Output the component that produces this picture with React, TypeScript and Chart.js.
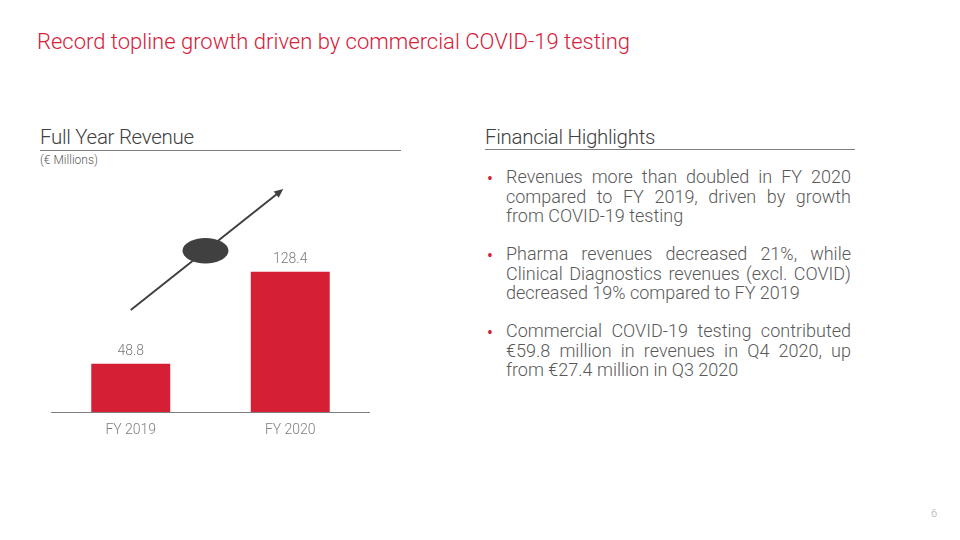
import React, { useEffect, useRef } from "react";
import { Chart, registerables } from "chart.js";

Chart.register(...registerables);

const categories = ["FY 2019", "FY 2020"];
const revenues = [48.8, 128.4];
const valueLabels = ["48.8", "128.4"];

const RED = "#D51F34";
const GRAY_TEXT = "#595959";
const FONT = "Roboto, 'Liberation Sans', sans-serif";

const decorPlugin = {
  id: "decor",
  afterDatasetsDraw(chart: any) {
    const ctx = chart.ctx;
    const meta = chart.getDatasetMeta(0);
    ctx.save();
    // value labels
    ctx.font = `300 14px ${FONT}`;
    ctx.fillStyle = "#7a7a7a";
    ctx.textAlign = "center";
    ctx.textBaseline = "bottom";
    meta.data.forEach((bar: any, i: number) => {
      ctx.fillText(valueLabels[i], bar.x, bar.y - 5);
    });
    // growth arrow (decoration)
    const x0 = meta.data[0].x;
    const x1 = meta.data[1].x;
    const area = chart.chartArea;
    const sx = x0;
    const sy = area.bottom - 102;
    const ex = x1 - 7;
    const ey = area.bottom - 223;
    ctx.strokeStyle = "#404040";
    ctx.fillStyle = "#404040";
    ctx.lineWidth = 2;
    const ang = Math.atan2(ey - sy, ex - sx);
    ctx.beginPath();
    ctx.moveTo(sx, sy);
    ctx.lineTo(ex - 6 * Math.cos(ang), ey - 6 * Math.sin(ang));
    ctx.stroke();
    ctx.beginPath();
    ctx.moveTo(ex, ey);
    ctx.lineTo(ex - 9 * Math.cos(ang) + 4 * Math.sin(ang), ey - 9 * Math.sin(ang) - 4 * Math.cos(ang));
    ctx.lineTo(ex - 9 * Math.cos(ang) - 4 * Math.sin(ang), ey - 9 * Math.sin(ang) + 4 * Math.cos(ang));
    ctx.closePath();
    ctx.fill();
    // ellipse
    const cx = sx + (ex - sx) * 0.49;
    const cy = sy + (ey - sy) * 0.49;
    ctx.beginPath();
    ctx.ellipse(cx, cy, 23, 12.7, 0, 0, Math.PI * 2);
    ctx.fill();
    ctx.restore();
  },
};

function RevenueChart() {
  const ref = useRef<HTMLCanvasElement>(null);
  useEffect(() => {
    if (!ref.current) return;
    const chart = new Chart(ref.current, {
      type: "bar",
      data: {
        labels: categories,
        datasets: [
          {
            data: revenues,
            backgroundColor: RED,
            borderWidth: 0,
            categoryPercentage: 1,
            barPercentage: 0.495,
          },
        ],
      },
      options: {
        animation: false,
        responsive: false,
        maintainAspectRatio: false,
        layout: { padding: 0 },
        plugins: { legend: { display: false }, tooltip: { enabled: false } },
        scales: {
          x: {
            grid: { display: false, drawTicks: false },
            border: { display: true, color: "#7f7f7f", width: 1 },
            ticks: {
              padding: 10,
              color: "#7f7f7f",
              font: { family: FONT, size: 14, weight: "300" as any },
            },
            afterFit: (scale: any) => {
              scale.height = 33;
            },
          },
          y: {
            display: false,
            min: 7,
            max: 216.3,
          },
        },
      },
      plugins: [decorPlugin],
    });
    return () => chart.destroy();
  }, []);
  return (
    <canvas
      ref={ref}
      width={319}
      height={275}
      style={{ position: "absolute", left: 51, top: 170, width: 319, height: 275 }}
    />
  );
}

const bullets = [
  "Revenues more than doubled in FY 2020 compared to FY 2019, driven by growth from COVID-19 testing",
  "Pharma revenues decreased 21%, while Clinical Diagnostics revenues (excl. COVID) decreased 19% compared to FY 2019",
  "Commercial COVID-19 testing contributed €59.8 million in revenues in Q4 2020, up from €27.4 million in Q3 2020",
];

export default function App() {
  return (
    <div
      style={{
        position: "absolute",
        left: 0,
        top: 0,
        width: 960,
        height: 540,
        background: "#ffffff",
        fontFamily: FONT,
        overflow: "hidden",
      }}
    >
      <div
        style={{
          position: "absolute",
          left: 37,
          top: 29,
          fontSize: 22,
          fontWeight: 300,
          color: "#D6203A",
          whiteSpace: "nowrap",
        }}
      >
        Record topline growth driven by commercial COVID-19 testing
      </div>

      <div
        style={{
          position: "absolute",
          left: 40,
          top: 125,
          width: 361,
          fontSize: 20.5,
          fontWeight: 300,
          color: "#404040",
          borderBottom: "1px solid #7f7f7f",
          paddingBottom: 0,
          lineHeight: "25px",
          letterSpacing: -0.3,
          whiteSpace: "nowrap",
        }}
      >
        Full Year Revenue
      </div>
      <div
        style={{
          position: "absolute",
          left: 40,
          top: 153,
          fontSize: 12,
          fontWeight: 300,
          color: GRAY_TEXT,
        }}
      >
        (€ Millions)
      </div>

      <RevenueChart />

      <div
        style={{
          position: "absolute",
          left: 485,
          top: 125,
          width: 370,
          fontSize: 20.5,
          fontWeight: 300,
          color: "#404040",
          borderBottom: "1px solid #7f7f7f",
          paddingBottom: 0,
          lineHeight: "24px",
          letterSpacing: -0.3,
          whiteSpace: "nowrap",
        }}
      >
        Financial Highlights
      </div>

      <div style={{ position: "absolute", left: 485, top: 167, width: 366 }}>
        {bullets.map((b, i) => (
          <div
            key={i}
            style={{
              position: "relative",
              paddingLeft: 21,
              marginBottom: 18.5,
              fontSize: 18,
              fontWeight: 300,
              lineHeight: "19.5px",
              color: GRAY_TEXT,
              textAlign: "justify",
            }}
          >
            <span style={{ position: "absolute", left: 2, top: 3, color: RED, fontSize: 17.5, fontWeight: 400 }}>•</span>
            {b}
          </div>
        ))}
      </div>

      <div
        style={{
          position: "absolute",
          left: 931,
          top: 507,
          fontSize: 11,
          fontWeight: 300,
          color: "#a6a6a6",
        }}
      >
        6
      </div>
    </div>
  );
}
